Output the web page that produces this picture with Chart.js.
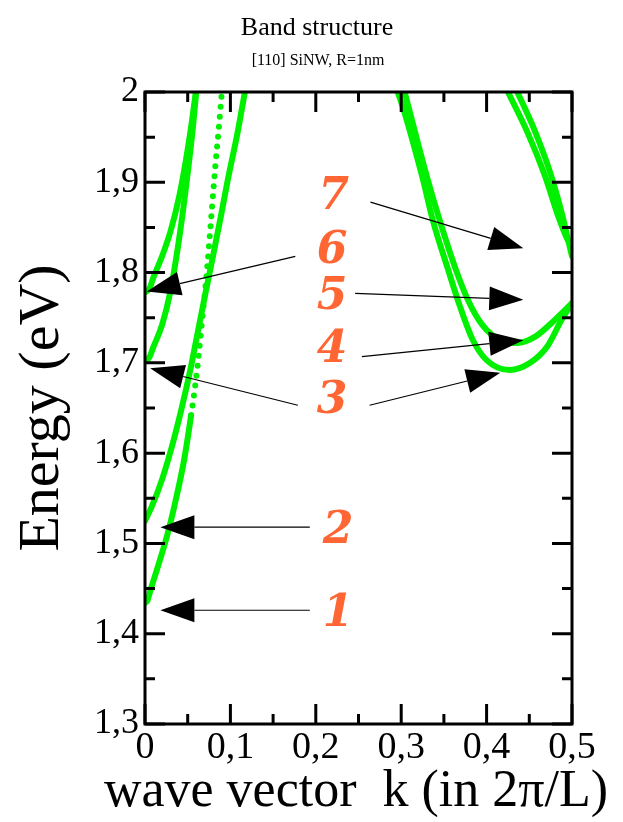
<!DOCTYPE html>
<html>
<head>
<meta charset="utf-8">
<script src="https://cdn.jsdelivr.net/npm/chart.js@4/dist/chart.umd.min.js"></script>
<style>
  html, body { margin: 0; padding: 0; background: #fff; }
</style>
</head>
<body>
<canvas id="myChart" width="623" height="822"></canvas>
<script>
// band curves, k in 2pi/L, energy in eV
let c1K = [0, 0.003, 0.006, 0.015, 0.026, 0.036, 0.0457, 0.054, 0.061, 0.067, 0.0726, 0.0773, 0.082, 0.0867, 0.090];
let c1E = [1.434, 1.437, 1.447, 1.474, 1.509, 1.548, 1.592, 1.642, 1.692, 1.748, 1.803, 1.858, 1.914, 1.963, 2.0];
let c2K = [0, 0.008, 0.020, 0.032, 0.043, 0.053, 0.062, 0.071, 0.080, 0.089, 0.097, 0.108, 0.117];
let c2E = [1.525, 1.541, 1.571, 1.609, 1.650, 1.692, 1.735, 1.778, 1.820, 1.863, 1.903, 1.953, 2.0];
let c3K = [0, 0.005, 0.01, 0.02, 0.03, 0.038, 0.045, 0.051, 0.056, 0.060];
let c3E = [1.702, 1.706, 1.718, 1.742, 1.780, 1.825, 1.872, 1.918, 1.960, 2.0];
let c4K = [0, 0.005, 0.01, 0.02, 0.03, 0.04, 0.048, 0.055, 0.0595];
let c4E = [1.778, 1.782, 1.795, 1.818, 1.846, 1.884, 1.925, 1.968, 2.0];
let c5K = [0.296, 0.304, 0.3255, 0.337, 0.354, 0.369, 0.384, 0.400, 0.427, 0.451, 0.471, 0.488, 0.5];
let c5E = [2.0, 1.977, 1.903, 1.858, 1.806, 1.762, 1.725, 1.703, 1.692, 1.700, 1.718, 1.748, 1.766];
let c6K = [0.304, 0.331, 0.345, 0.363, 0.378, 0.395, 0.416, 0.436, 0.457, 0.477, 0.5];
let c6E = [2.0, 1.903, 1.858, 1.806, 1.770, 1.742, 1.725, 1.722, 1.729, 1.745, 1.766];
let c7K = [0.425, 0.448, 0.468, 0.484, 0.494, 0.5];
let c7E = [2.0, 1.955, 1.908, 1.862, 1.838, 1.828];
let c8K = [0.436, 0.456, 0.474, 0.488, 0.496, 0.5];
let c8E = [2.0, 1.958, 1.912, 1.866, 1.834, 1.818];

let xTicks = [0, 0.1, 0.2, 0.3, 0.4, 0.5];
let xMinor = [0.05, 0.15, 0.25, 0.35, 0.45];
let yTicks = [1.3, 1.4, 1.5, 1.6, 1.7, 1.8, 1.9, 2.0];
let yMinor = [1.35, 1.45, 1.55, 1.65, 1.75, 1.85, 1.95];

// numbered labels and the arrows from them
let labelText = ['1', '2', '3', '4', '5', '6', '7'];
let labelK = [0.226, 0.226, 0.219, 0.219, 0.219, 0.219, 0.221];
let labelE = [1.421, 1.513, 1.657, 1.714, 1.772, 1.823, 1.883];
let arrowFromK = [0.193, 0.193, 0.179, 0.263, 0.254, 0.246, 0.176, 0.264];
let arrowFromE = [1.426, 1.518, 1.653, 1.653, 1.707, 1.777, 1.818, 1.878];
let arrowToK = [0.018, 0.018, 0.006, 0.416, 0.443, 0.443, 0.002, 0.443];
let arrowToE = [1.426, 1.518, 1.694, 1.689, 1.725, 1.770, 1.779, 1.827];

let titleText = 'Band structure';
let subtitleText = '[110] SiNW, R=1nm';
let xTitle = 'wave vector  k (in 2\u03C0/L)';

const serif = '"Liberation Serif", "Times New Roman", serif';
const green = '#00f000';

let curves = [[c1K, c1E], [c2K, c2E], [c3K, c3E], [c4K, c4E], [c5K, c5E], [c6K, c6E], [c7K, c7E], [c8K, c8E]];

let decor = {
    id: 'decor',
    afterDatasetsDraw(chart) {
        const { ctx, chartArea: a, scales: { x, y } } = chart;
        ctx.save();

        // arrows
        ctx.strokeStyle = '#000';
        ctx.fillStyle = '#000';
        ctx.lineWidth = 1.2;
        arrowFromK.forEach((k0, i) => {
            let x0 = x.getPixelForValue(k0), y0 = y.getPixelForValue(arrowFromE[i]);
            let x1 = x.getPixelForValue(arrowToK[i]), y1 = y.getPixelForValue(arrowToE[i]);
            let ang = Math.atan2(y1 - y0, x1 - x0);
            let len = 34, half = 12;
            let bx = x1 - len * Math.cos(ang), by = y1 - len * Math.sin(ang);
            ctx.beginPath();
            ctx.moveTo(x0, y0);
            ctx.lineTo(bx, by);
            ctx.stroke();
            ctx.beginPath();
            ctx.moveTo(x1, y1);
            ctx.lineTo(bx + half * Math.sin(ang), by - half * Math.cos(ang));
            ctx.lineTo(bx - half * Math.sin(ang), by + half * Math.cos(ang));
            ctx.closePath();
            ctx.fill();
        });

        // numbers
        ctx.font = 'italic bold 44px "DejaVu Serif"';
        ctx.fillStyle = '#ff6633';
        ctx.textAlign = 'center';
        ctx.textBaseline = 'middle';
        labelText.forEach((t, i) => {
            ctx.fillText(t, x.getPixelForValue(labelK[i]), y.getPixelForValue(labelE[i]));
        });

        // frame and inward ticks on all four sides
        ctx.strokeStyle = '#000';
        ctx.lineWidth = 3;
        ctx.strokeRect(a.left, a.top, a.right - a.left, a.bottom - a.top);
        ctx.beginPath();
        let tick = (vals, len) => {
            vals.forEach(v => {
                let px = x.getPixelForValue(v);
                ctx.moveTo(px, a.bottom); ctx.lineTo(px, a.bottom - len);
                ctx.moveTo(px, a.top); ctx.lineTo(px, a.top + len);
            });
        };
        let tickY = (vals, len) => {
            vals.forEach(v => {
                let py = y.getPixelForValue(v);
                ctx.moveTo(a.left, py); ctx.lineTo(a.left + len, py);
                ctx.moveTo(a.right, py); ctx.lineTo(a.right - len, py);
            });
        };
        tick(xTicks, 20);
        tick(xMinor, 10);
        tickY(yTicks, 20);
        tickY(yMinor, 10);
        ctx.stroke();

        // titles
        ctx.fillStyle = '#000';
        ctx.textAlign = 'center';
        ctx.textBaseline = 'alphabetic';
        ctx.font = '26px ' + serif;
        ctx.fillText(titleText, 317, 35);
        ctx.font = '16px ' + serif;
        ctx.fillText(subtitleText, 318, 65);
        ctx.font = '52px ' + serif;
        ctx.fillText(xTitle, 356, 806);
        ctx.restore();
    }
};

const ctx = document.getElementById('myChart');
const chart = new Chart(ctx, {
    type: 'scatter',
    data: {
        datasets: curves.map((c, n) => ({
            data: c[0].map((k, i) => ({ x: k, y: c[1][i] })),
            showLine: true,
            borderColor: green,
            borderWidth: 6,
            borderCapStyle: 'round',
            pointRadius: 0,
            cubicInterpolationMode: 'monotone',
            fill: false,
            // the steep part of the lowest band shows up as separate dots
            segment: n === 0 ? { borderDash: s => s.p0.parsed.y > 1.62 ? [0, 10] : undefined } : undefined
        }))
    },
    options: {
        responsive: false,
        animation: false,
        layout: { padding: { top: 92, right: 51, left: 0, bottom: 0 } },
        plugins: {
            legend: { display: false },
            tooltip: { enabled: false }
        },
        scales: {
            x: {
                type: 'linear',
                min: 0,
                max: 0.5,
                afterBuildTicks: s => { s.ticks = xTicks.map(v => ({ value: v })); },
                afterFit: s => { s.height = 98; },
                grid: { display: false, drawTicks: false },
                border: { display: false },
                ticks: {
                    color: '#000',
                    padding: 1,
                    maxRotation: 0,
                    autoSkip: false,
                    font: { family: serif, size: 38 },
                    callback: v => String(+v.toFixed(2)).replace('.', ',')
                }
            },
            y: {
                type: 'linear',
                min: 1.3,
                max: 2.0,
                afterBuildTicks: s => { s.ticks = yTicks.map(v => ({ value: v })); },
                afterFit: s => { s.width = 145; },
                grid: { display: false, drawTicks: false },
                border: { display: false },
                ticks: {
                    color: '#000',
                    padding: 6,
                    autoSkip: false,
                    font: { family: serif, size: 36 },
                    callback: v => String(+v.toFixed(2)).replace('.', ',')
                },
                title: {
                    display: true,
                    text: 'Energy (eV)',
                    color: '#000',
                    font: { family: serif, size: 58, lineHeight: 1 },
                    padding: { top: 14, bottom: 0 }
                }
            }
        }
    },
    plugins: [decor]
});
</script>
</body>
</html>
